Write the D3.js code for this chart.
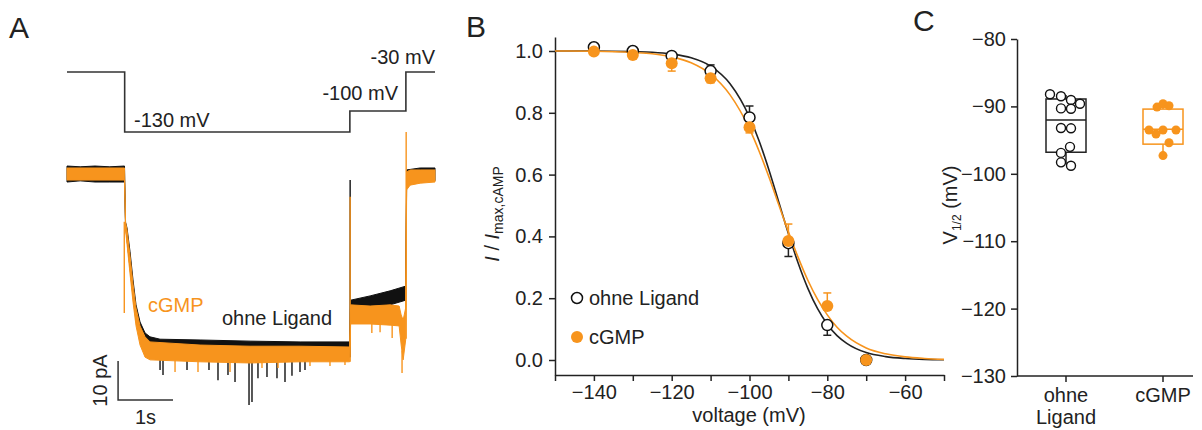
<!DOCTYPE html>
<html>
<head>
<meta charset="utf-8">
<script src="https://cdn.jsdelivr.net/npm/d3@7"></script>
<style>
  body { margin: 0; background: #fff; }
  svg { display: block; font-family: "Liberation Sans", Arial, sans-serif; }
  .axis .domain, .axis line { stroke: #222; stroke-width: 1.5; }
  .axis text { font-size: 20px; fill: #222; font-family: "Liberation Sans", Arial, sans-serif; }
</style>
</head>
<body>
<svg id="fig" width="1202" height="430"></svg>
<script>
// ---- Daten Panel A (Stromspuren, Zeit in s, Strom in pA) ----
const protoT = [0, 1.05, 5.15, 6.17, 6.7];
const protoV = [-30, -130, -100, -30, -30];

const ohneT  = [0, 0.24, 0.51, 0.78, 1.047, 1.066, 1.093, 1.148, 1.202, 1.257, 1.33, 1.421, 1.512, 1.694, 2.423, 3.333, 4.244, 5.146, 5.164, 5.519, 5.883, 6.166, 6.184, 6.43, 6.7];
const ohneHi = [2.3, 2.1, 2.3, 2.1, 2.3, -12.1, -13.6, -19.7, -26.9, -33.3, -37.7, -40.5, -41.5, -42.1, -42.3, -42.6, -42.8, -42.8, -32.1, -31.0, -29.7, -28.5, 1.3, 1.8, 1.8];
const ohneLo = [-1.8, -1.5, -1.8, -1.8, -1.8, -13.1, -16.7, -23.9, -31.0, -37.2, -41.8, -44.9, -45.6, -45.9, -46.2, -46.4, -46.4, -46.7, -35.4, -34.6, -33.3, -32.1, -2.1, -1.8, -1.5];

const cgmpT  = [0, 1.047, 1.066, 1.093, 1.148, 1.202, 1.257, 1.33, 1.421, 1.512, 2.423, 3.333, 4.244, 5.146, 5.164, 5.519, 5.883, 6.047, 6.084, 6.12, 6.166, 6.184, 6.248, 6.43, 6.7];
const cgmpHi = [1.8, 1.8, -12.1, -14.1, -20.8, -28.0, -34.1, -38.7, -41.5, -42.8, -43.6, -43.9, -43.9, -44.1, -33.3, -33.6, -33.3, -33.6, -35.9, -37.2, -34.1, 0.8, 1.3, 1.3, 1.3];
const cgmpLo = [-1.3, -1.3, -14.1, -17.7, -25.4, -32.6, -38.7, -43.6, -46.7, -47.4, -47.9, -48.2, -47.9, -47.9, -38.2, -38.2, -38.5, -38.7, -43.6, -47.4, -42.3, -3.8, -2.6, -2.1, -1.8];

// Ausreisser / Transienten: [t, von, bis]
const ohneSpikes = [
  [1.694, -46, -50.0], [1.748, -46, -51.3], [2.185, -46, -50.0], [2.585, -46, -50.0],
  [2.749, -46, -52.6], [2.931, -46, -51.3], [3.059, -46, -53.1], [3.314, -46, -59.0],
  [3.368, -46, -58.2], [3.477, -46, -52.1], [3.641, -46, -51.8], [3.823, -46, -52.1],
  [3.969, -46, -53.1], [4.096, -46, -51.5], [4.242, -46, -50.5], [4.333, -46, -50.0],
  [5.155, -46.7, -1.3]
];
const cgmpSpikes = [
  [1.043, -12, -35.4], [1.967, -47.5, -50.5], [2.385, -47.5, -50.5], [2.968, -47.5, -50.5],
  [3.55, -47.5, -49.5], [3.842, -47.5, -49.5], [4.424, -47.5, -49.0], [4.788, -47.5, -49.0],
  [5.061, -47.5, -48.7], [5.155, -47.9, -5.6], [5.55, -38.2, -40.5], [5.70, -38.2, -40.3],
  [5.92, -38.5, -41.8], [6.10, -45, -50.8], [6.175, -42, 11.0]
];
const scaleBar = { t: 0.93, i: -57.7, dt: 1, di: 10 };

// ---- Daten Panel B ----
const voltages = [-140, -130, -120, -110, -100, -90, -80, -70];
const ohneMean = [1.012, 1.0, 0.984, 0.935, 0.785, 0.378, 0.113, 0.0];
const ohneErr  = [0, 0, 0, 0.02, 0.037, -0.043, -0.033, 0];
const cgmpMean = [0.998, 0.987, 0.96, 0.912, 0.753, 0.385, 0.175, 0.0];
const cgmpErr  = [0, -0.004, -0.025, -0.015, -0.018, 0.055, 0.042, 0];
// Boltzmann-Fits
const fitV    = [-150, -140, -130, -125, -120, -115, -110, -105, -100, -97.5, -95, -92.5, -90, -87.5, -85, -82.5, -80, -77.5, -75, -70, -65, -60, -55, -50];
const ohneFit = [1.0, 1.0, 0.998, 0.996, 0.99, 0.978, 0.951, 0.894, 0.786, 0.708, 0.615, 0.512, 0.409, 0.314, 0.232, 0.166, 0.116, 0.079, 0.054, 0.024, 0.011, 0.005, 0.002, 0.001];
const cgmpFit = [1.0, 0.999, 0.995, 0.991, 0.981, 0.962, 0.925, 0.858, 0.748, 0.675, 0.592, 0.503, 0.415, 0.332, 0.258, 0.196, 0.146, 0.106, 0.077, 0.039, 0.02, 0.01, 0.005, 0.002];

// ---- Daten Panel C ----
const groups = ["ohne Ligand", "cGMP"];
const ohneV12 = [-88.2, -88.5, -89.05, -89.6, -90.3, -90.35, -93.2, -93.25, -96.0, -96.9, -98.3, -98.8];
const ohneCol = [-1.6, -0.5, 0.5, 1.4, -0.5, 0.5, -0.5, 0.5, 0.4, -0.5, -0.5, 0.5];
const cgmpV12 = [-90.1, -89.6, -89.9, -93.5, -93.5, -93.5, -94.1, -95.4, -97.3];
const cgmpCol = [-0.6, 0, 0.6, -1.4, 0, 1.3, -0.7, 0.6, 0];
// [unterer Whisker, Q1, Median, Q3, oberer Whisker]
const ohneBox = [-98.6, -96.8, -92.0, -88.9, -88.3];
const cgmpBox = [-97.2, -95.6, -93.4, -90.4, -89.6];

const ORANGE = "#f7941d";
const DARK = "#222";

const svg = d3.select("#fig");
svg.append("rect").attr("width", 1202).attr("height", 430).attr("fill", "#fff");

function letter(txt, x, y) {
  svg.append("text").attr("x", x).attr("y", y).attr("font-size", 30).attr("fill", DARK).text(txt);
}

// ================= Panel A =================
letter("A", 9, 38);
const tA = d3.scaleLinear().domain([0, 6.7]).range([67, 435]);
const iA = d3.scaleLinear().domain([0, -10]).range([175, 214]);
const vA = d3.scaleLinear().domain([-30, -100, -130]).range([72, 111, 132]);

const gA = svg.append("g");

gA.append("path")
  .datum(protoT.map((t, i) => [t, protoV[i]]))
  .attr("fill", "none").attr("stroke", "#333").attr("stroke-width", 1.6)
  .attr("d", d3.line().x(d => tA(d[0])).y(d => vA(d[1])).curve(d3.curveStepAfter));

gA.append("text").attr("x", 134).attr("y", 127).attr("font-size", 20).attr("fill", DARK).text("-130 mV");
gA.append("text").attr("x", 398).attr("y", 100).attr("font-size", 20).attr("fill", DARK).attr("text-anchor", "end").text("-100 mV");
gA.append("text").attr("x", 435).attr("y", 64).attr("font-size", 20).attr("fill", DARK).attr("text-anchor", "end").text("-30 mV");

const band = d3.area().x(d => tA(d.t)).y0(d => iA(d.lo)).y1(d => iA(d.hi));

function drawTrace(T, hi, lo, spikes, color) {
  const data = T.map((t, i) => ({ t, hi: hi[i], lo: lo[i] }));
  gA.append("path").datum(data)
    .attr("fill", color).attr("stroke", color).attr("stroke-width", 1)
    .attr("d", band);
  gA.selectAll(null).data(spikes).join("line")
    .attr("x1", d => tA(d[0])).attr("x2", d => tA(d[0]))
    .attr("y1", d => iA(d[1])).attr("y2", d => iA(d[2]))
    .attr("stroke", color).attr("stroke-width", 1.4);
}
drawTrace(ohneT, ohneHi, ohneLo, ohneSpikes, "#111");
drawTrace(cgmpT, cgmpHi, cgmpLo, cgmpSpikes, ORANGE);

gA.append("text").attr("x", 148).attr("y", 312).attr("font-size", 20).attr("fill", ORANGE).text("cGMP");
gA.append("text").attr("x", 222).attr("y", 325).attr("font-size", 20).attr("fill", DARK).text("ohne Ligand");

// Skalierungsbalken
const sb0x = tA(scaleBar.t), sb0y = iA(scaleBar.i);
const sbx = tA(scaleBar.t + scaleBar.dt), sby = iA(scaleBar.i + scaleBar.di);
gA.append("path")
  .attr("d", `M${sb0x},${sby}V${sb0y}H${sbx}`)
  .attr("fill", "none").attr("stroke", "#333").attr("stroke-width", 1.5);
gA.append("text").attr("transform", `translate(${sb0x - 11},${(sb0y + sby) / 2}) rotate(-90)`)
  .attr("text-anchor", "middle").attr("font-size", 20).attr("fill", DARK).text("10 pA");
gA.append("text").attr("x", (sb0x + sbx) / 2).attr("y", 424)
  .attr("text-anchor", "middle").attr("font-size", 20).attr("fill", DARK).text("1s");

// ================= Panel B =================
letter("B", 466, 37);
const xB = d3.scaleLinear().domain([-150, -50]).range([555, 944]);
const yB = d3.scaleLinear().domain([-15 / 309, 1 + 14 / 309]).range([375, 37]);
const gB = svg.append("g");

gB.append("g").attr("class", "axis").attr("transform", "translate(0,375)")
  .call(d3.axisBottom(xB).tickValues(d3.range(-150, -49, 10))
    .tickFormat(d => (d % 20 === 0 ? d3.format("d")(d) : ""))
    .tickSize(6).tickSizeOuter(0).tickPadding(4));
gB.append("g").attr("class", "axis").attr("transform", "translate(555,0)")
  .call(d3.axisLeft(yB).tickValues([0, 0.2, 0.4, 0.6, 0.8, 1.0])
    .tickFormat(d3.format(".1f")).tickSize(6).tickSizeOuter(0).tickPadding(6));

const fitLine = d3.line().x(d => xB(d[0])).y(d => yB(d[1])).curve(d3.curveMonotoneX);
gB.append("path").datum(fitV.map((v, i) => [v, ohneFit[i]]))
  .attr("fill", "none").attr("stroke", DARK).attr("stroke-width", 1.6).attr("d", fitLine);
gB.append("path").datum(fitV.map((v, i) => [v, cgmpFit[i]]))
  .attr("fill", "none").attr("stroke", ORANGE).attr("stroke-width", 1.6).attr("d", fitLine);

function errorBars(mean, err, color) {
  const d = voltages.map((v, i) => ({ v, m: mean[i], e: err[i] })).filter(d => d.e !== 0);
  const g = gB.append("g").attr("stroke", color).attr("stroke-width", 1.5);
  g.selectAll(null).data(d).join("line")
    .attr("x1", d => xB(d.v)).attr("x2", d => xB(d.v))
    .attr("y1", d => yB(d.m)).attr("y2", d => yB(d.m + d.e));
  g.selectAll(null).data(d).join("line")
    .attr("x1", d => xB(d.v) - 4).attr("x2", d => xB(d.v) + 4)
    .attr("y1", d => yB(d.m + d.e)).attr("y2", d => yB(d.m + d.e));
}
errorBars(ohneMean, ohneErr, DARK);
gB.selectAll(null).data(voltages).join("circle")
  .attr("cx", d => xB(d)).attr("cy", (d, i) => yB(ohneMean[i])).attr("r", 5.5)
  .attr("fill", "#fff").attr("stroke", "#111").attr("stroke-width", 1.5);
errorBars(cgmpMean, cgmpErr, ORANGE);
gB.selectAll(null).data(voltages).join("circle")
  .attr("cx", d => xB(d)).attr("cy", (d, i) => yB(cgmpMean[i])).attr("r", 6)
  .attr("fill", ORANGE);

// Legende
gB.append("circle").attr("cx", 577).attr("cy", 298).attr("r", 5.5)
  .attr("fill", "#fff").attr("stroke", "#111").attr("stroke-width", 1.5);
gB.append("text").attr("x", 589).attr("y", 305).attr("font-size", 20).attr("fill", DARK).text("ohne Ligand");
gB.append("circle").attr("cx", 577).attr("cy", 337).attr("r", 6).attr("fill", ORANGE);
gB.append("text").attr("x", 589).attr("y", 344).attr("font-size", 20).attr("fill", DARK).text("cGMP");

const yLabB = gB.append("text").attr("transform", "translate(499,214) rotate(-90)")
  .attr("text-anchor", "middle").attr("font-size", 20).attr("fill", DARK);
yLabB.append("tspan").attr("font-style", "italic").text("I");
yLabB.append("tspan").text(" / ");
yLabB.append("tspan").attr("font-style", "italic").text("I");
yLabB.append("tspan").attr("font-size", 14).attr("dy", 4).text("max,cAMP");

gB.append("text").attr("x", 749).attr("y", 422).attr("text-anchor", "middle")
  .attr("font-size", 20).attr("fill", DARK).text("voltage (mV)");

// ================= Panel C =================
letter("C", 913, 31);
const yC = d3.scaleLinear().domain([-130, -80]).range([376, 39]);
const xC = d3.scalePoint().domain(groups).range([1066, 1163]);
const gC = svg.append("g");

gC.append("g").attr("class", "axis").attr("transform", "translate(1017,0)")
  .call(d3.axisLeft(yC).tickValues(d3.range(-130, -79, 10))
    .tickFormat(d3.format("d")).tickSize(6).tickSizeOuter(0).tickPadding(5));
gC.append("line").attr("x1", 1017).attr("x2", 1193).attr("y1", 376).attr("y2", 376)
  .attr("stroke", DARK).attr("stroke-width", 1.5);
gC.selectAll(null).data(groups).join("line")
  .attr("x1", d => xC(d)).attr("x2", d => xC(d)).attr("y1", 376).attr("y2", 382)
  .attr("stroke", DARK).attr("stroke-width", 1.5);

const xLab = gC.selectAll(null).data(groups).join("text")
  .attr("text-anchor", "middle").attr("font-size", 20).attr("fill", DARK);
xLab.each(function (d) {
  const words = d.split(" ");
  d3.select(this).selectAll("tspan").data(words).join("tspan")
    .attr("x", xC(d)).attr("y", (w, i) => 402 + i * 22).text(w => w);
});

function boxPlot(name, stats, vals, cols, color, open) {
  const c = xC(name);
  const g = gC.append("g");
  const [lw, q1, med, q3, hw] = stats;
  g.append("rect").attr("x", c - 20).attr("width", 40)
    .attr("y", yC(q3)).attr("height", yC(q1) - yC(q3))
    .attr("fill", "none").attr("stroke", color).attr("stroke-width", 1.5);
  g.append("line").attr("x1", c - 20).attr("x2", c + 20).attr("y1", yC(med)).attr("y2", yC(med))
    .attr("stroke", color).attr("stroke-width", 1.5);
  g.append("line").attr("x1", c).attr("x2", c).attr("y1", yC(q1)).attr("y2", yC(lw))
    .attr("stroke", color).attr("stroke-width", 1.5);
  g.append("line").attr("x1", c).attr("x2", c).attr("y1", yC(q3)).attr("y2", yC(hw))
    .attr("stroke", color).attr("stroke-width", 1.5);
  g.selectAll(null).data(vals).join("circle")
    .attr("cx", (d, i) => c + cols[i] * 10).attr("cy", d => yC(d)).attr("r", 4.5)
    .attr("fill", open ? "#fff" : color)
    .attr("stroke", open ? "#111" : "none").attr("stroke-width", 1.4);
}
boxPlot("ohne Ligand", ohneBox, ohneV12, ohneCol, DARK, true);
boxPlot("cGMP", cgmpBox, cgmpV12, cgmpCol, ORANGE, false);

const yLabC = gC.append("text").attr("transform", "translate(957,205) rotate(-90)")
  .attr("text-anchor", "middle").attr("font-size", 20).attr("fill", DARK);
yLabC.append("tspan").text("V");
yLabC.append("tspan").attr("font-size", 12).attr("dy", 4).text("1/2");
yLabC.append("tspan").attr("dy", -4).text(" (mV)");
</script>
</body>
</html>
